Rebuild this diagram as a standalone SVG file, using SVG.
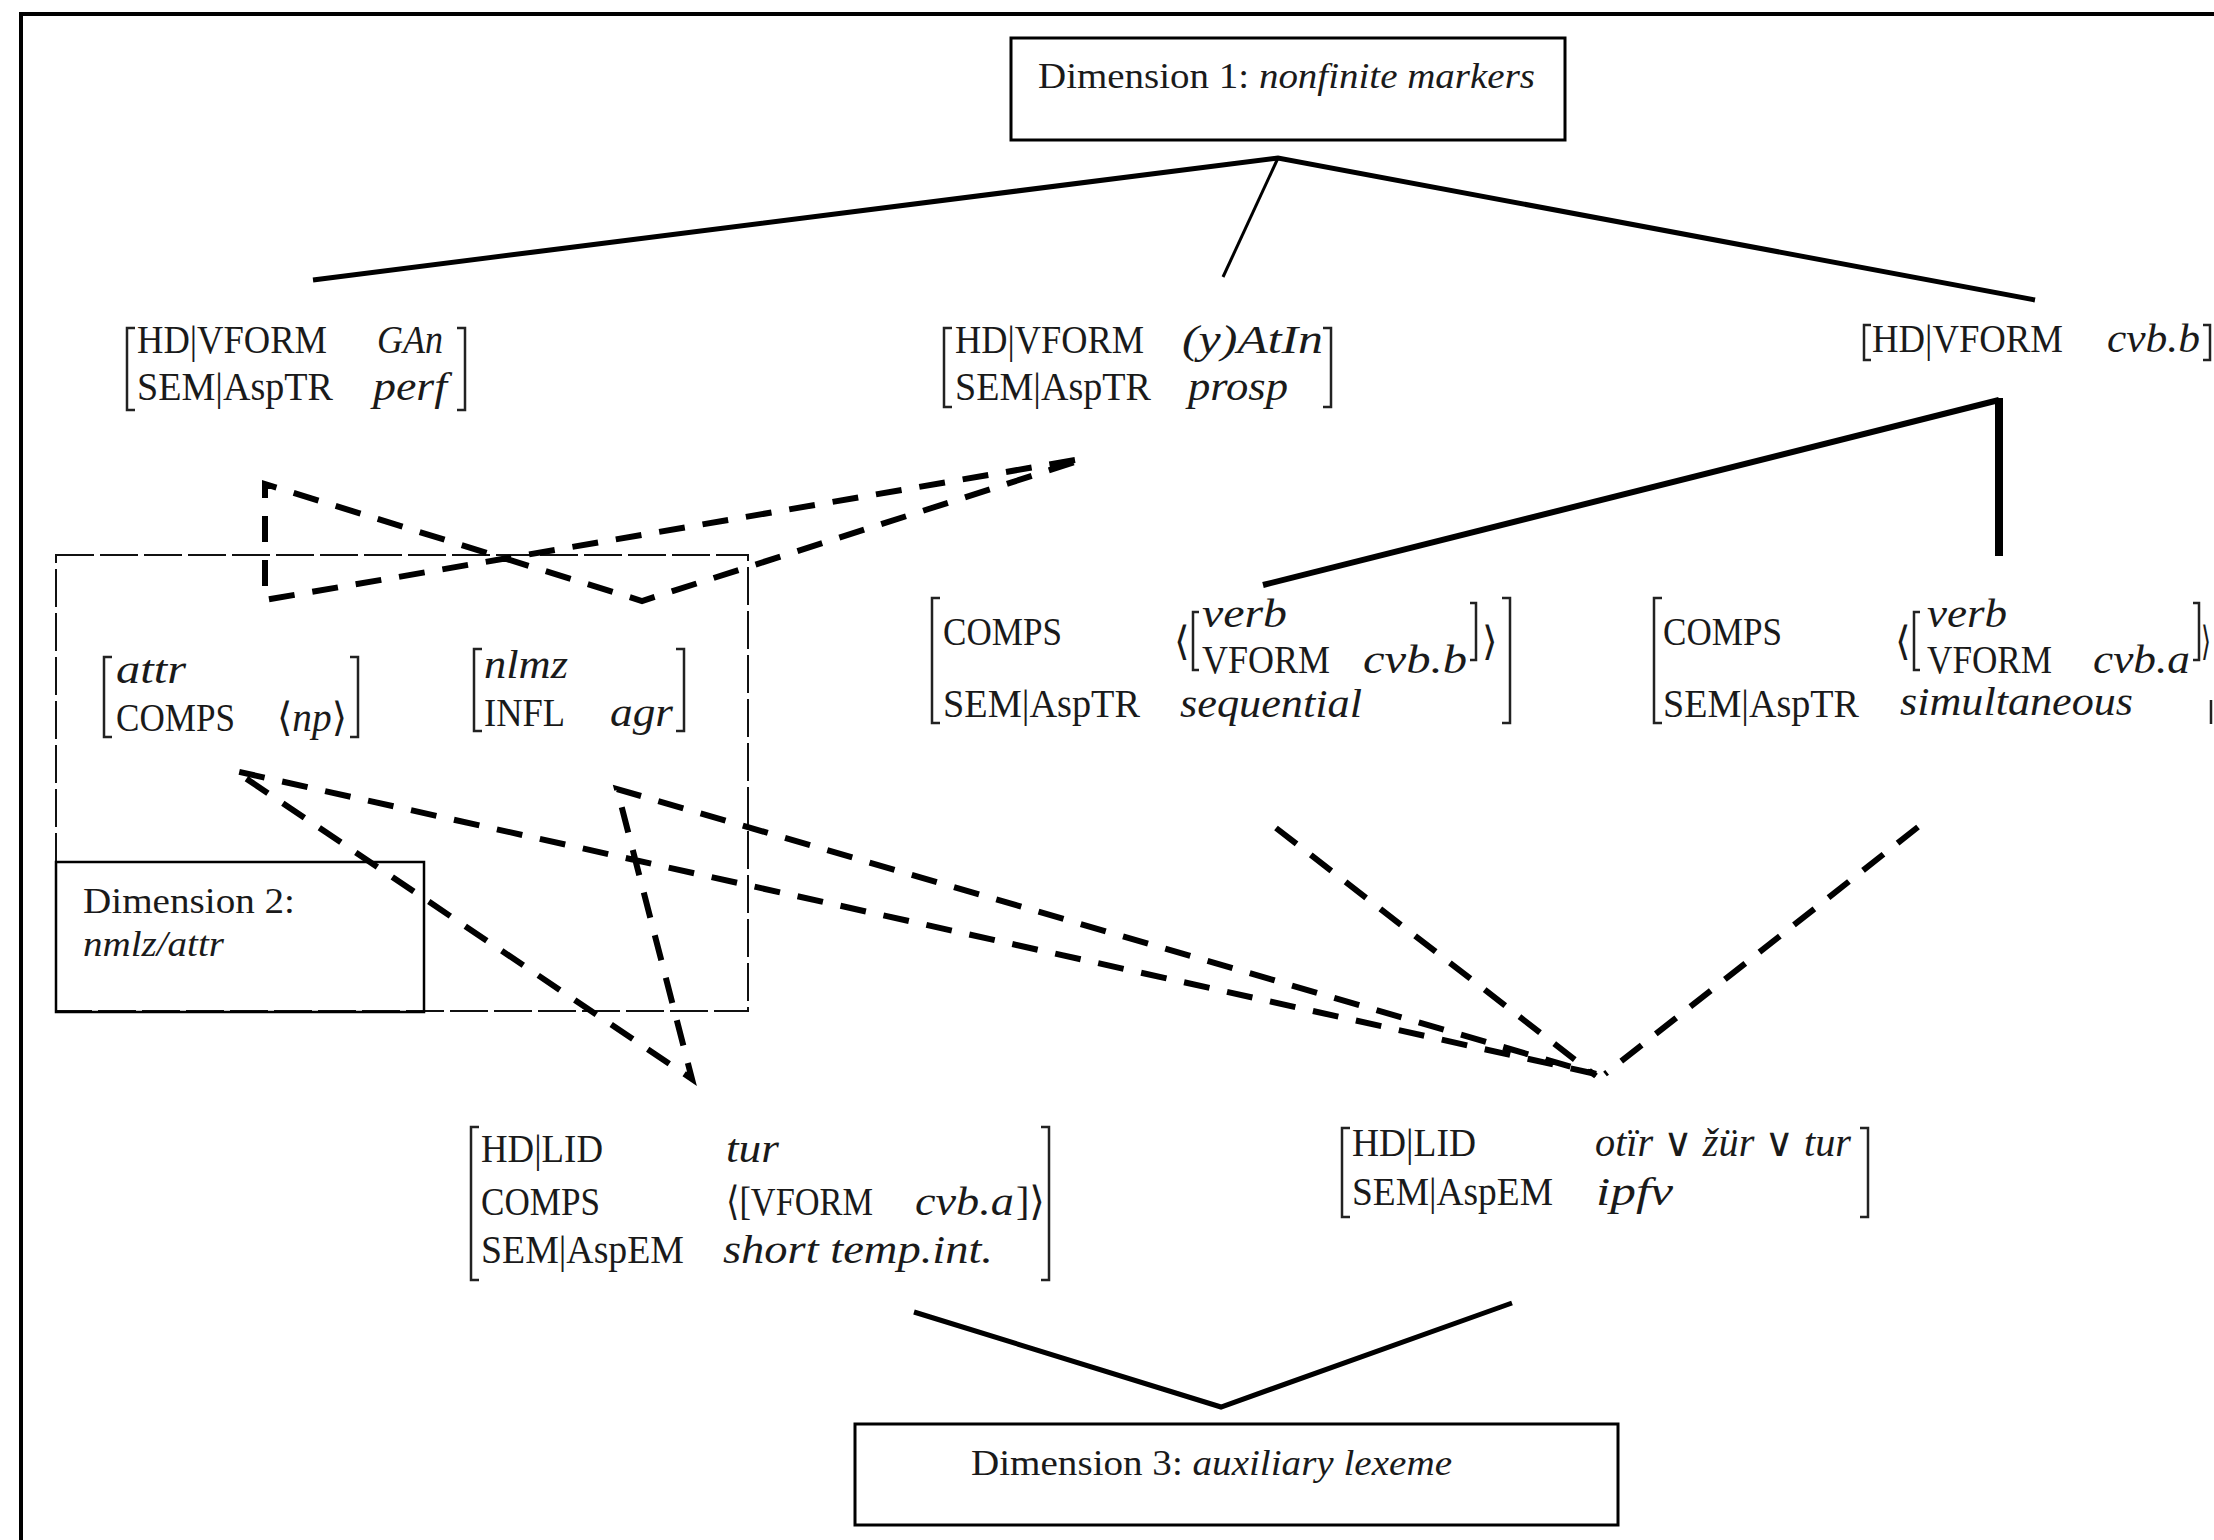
<svg xmlns="http://www.w3.org/2000/svg" width="2214" height="1540" viewBox="0 0 2214 1540">
<style>
text{font-family:"Liberation Serif","DejaVu Serif",serif;fill:#1a1a1a;font-size:40px}
.i{font-style:italic}
.d{font-size:36px}
.br{fill:none;stroke:#222;stroke-width:2.5}
.solid{fill:none;stroke:#000;stroke-width:5;stroke-linecap:butt;stroke-linejoin:miter}
.dash{fill:none;stroke:#000;stroke-width:6;stroke-dasharray:26 18}
.box{fill:#fff;stroke:#000;stroke-width:3}
</style>
<rect x="0" y="0" width="2214" height="1540" fill="#fff"/>
<path d="M21,1540 V14 H2214" fill="none" stroke="#000" stroke-width="4"/>

<g id="dim2-container">
<rect x="56" y="555" width="692" height="456" fill="none" stroke="#111" stroke-width="2" stroke-dasharray="38 6"/>
</g>

<g id="connectors">
<path class="solid" d="M313,280 L1278,158 L2035,300"/>
<path class="solid" style="stroke-width:3" d="M1278,158 L1223,277"/>
<path class="solid" style="stroke-width:6" d="M1263,585 L1999,400"/>
<path class="solid" style="stroke-width:8" d="M1999,398 L1999,556"/>
<path class="solid" d="M914,1312 L1221,1407 L1512,1303"/>
<path class="dash" d="M1075,460 L265,600 L265,484 L642,601 L1075,462"/>
<path class="dash" d="M1596,1074 L235,771 L692,1079 L617,789 L1596,1074"/>
<path class="dash" d="M1276,828 L1596,1076"/>
<path class="dash" d="M1918,827 L1605,1074"/>
</g>

<g id="dim1">
<rect class="box" x="1011" y="38" width="554" height="102"/>
<text class="d" x="1038" y="88" textLength="497" lengthAdjust="spacingAndGlyphs">Dimension 1: <tspan class="i">nonfinite markers</tspan></text>
</g>

<g id="node-gan">
<path class="br" d="M135,328 H127 V410 H135 M457,328 H465 V410 H457"/>
<text x="137" y="353" textLength="190" lengthAdjust="spacingAndGlyphs">HD|VFORM</text>
<text x="137" y="400" textLength="196" lengthAdjust="spacingAndGlyphs">SEM|AspTR</text>
<text class="i" x="377" y="353" textLength="66" lengthAdjust="spacingAndGlyphs">GAn</text>
<text class="i" x="373" y="400" textLength="74" lengthAdjust="spacingAndGlyphs">perf</text>
</g>

<g id="node-atin">
<path class="br" d="M952,328 H944 V407 H952 M1323,328 H1331 V407 H1323"/>
<text x="955" y="353" textLength="189" lengthAdjust="spacingAndGlyphs">HD|VFORM</text>
<text x="955" y="400" textLength="196" lengthAdjust="spacingAndGlyphs">SEM|AspTR</text>
<text class="i" x="1182" y="353" textLength="141" lengthAdjust="spacingAndGlyphs">(y)AtIn</text>
<text class="i" x="1188" y="400" textLength="100" lengthAdjust="spacingAndGlyphs">prosp</text>
</g>

<g id="node-cvbb">
<path class="br" d="M1871,325 H1864 V360 H1871 M2203,325 H2210 V360 H2203"/>
<text x="1872" y="352" textLength="191" lengthAdjust="spacingAndGlyphs">HD|VFORM</text>
<text class="i" x="2107" y="352" textLength="93" lengthAdjust="spacingAndGlyphs">cvb.b</text>
</g>

<g id="node-sequential">
<path class="br" d="M940,598 H932 V723 H940 M1502,598 H1510 V723 H1502"/>
<path class="br" d="M1199,612 H1193 V670 H1199 M1470,603 H1476 V660 H1470"/>
<text x="943" y="645" textLength="119" lengthAdjust="spacingAndGlyphs">COMPS</text>
<text x="943" y="717" textLength="197" lengthAdjust="spacingAndGlyphs">SEM|AspTR</text>
<text x="1174" y="655">⟨</text>
<text class="i" x="1202" y="627" textLength="85" lengthAdjust="spacingAndGlyphs">verb</text>
<text x="1202" y="673" textLength="128" lengthAdjust="spacingAndGlyphs">VFORM</text>
<text class="i" x="1363" y="673" textLength="104" lengthAdjust="spacingAndGlyphs">cvb.b</text>
<text x="1482" y="655">⟩</text>
<text class="i" x="1180" y="717" textLength="182" lengthAdjust="spacingAndGlyphs">sequential</text>
</g>

<g id="node-simultaneous">
<path class="br" d="M1662,598 H1654 V723 H1662 M2211,700 V724"/>
<path class="br" d="M1920,612 H1914 V670 H1920 M2193,603 H2199 V660 H2193"/>
<text x="1663" y="645" textLength="119" lengthAdjust="spacingAndGlyphs">COMPS</text>
<text x="1663" y="717" textLength="196" lengthAdjust="spacingAndGlyphs">SEM|AspTR</text>
<text x="1895" y="655">⟨</text>
<text class="i" x="1927" y="627" textLength="80" lengthAdjust="spacingAndGlyphs">verb</text>
<text x="1927" y="673" textLength="125" lengthAdjust="spacingAndGlyphs">VFORM</text>
<text class="i" x="2093" y="673" textLength="97" lengthAdjust="spacingAndGlyphs">cvb.a</text>
<text x="2201" y="655" textLength="10" lengthAdjust="spacingAndGlyphs">⟩</text>
<text class="i" x="1900" y="715" textLength="233" lengthAdjust="spacingAndGlyphs">simultaneous</text>
</g>

<g id="node-attr">
<path class="br" d="M112,657 H104 V737 H112 M350,657 H358 V737 H350"/>
<text class="i" x="116" y="683" textLength="70" lengthAdjust="spacingAndGlyphs">attr</text>
<text x="116" y="731" textLength="119" lengthAdjust="spacingAndGlyphs">COMPS</text>
<text x="277" y="731" textLength="70" lengthAdjust="spacingAndGlyphs">⟨<tspan class="i">np</tspan>⟩</text>
</g>

<g id="node-nlmz">
<path class="br" d="M482,649 H474 V731 H482 M676,649 H684 V731 H676"/>
<text class="i" x="484" y="678" textLength="84" lengthAdjust="spacingAndGlyphs">nlmz</text>
<text x="484" y="726" textLength="81" lengthAdjust="spacingAndGlyphs">INFL</text>
<text class="i" x="610" y="726" textLength="63" lengthAdjust="spacingAndGlyphs">agr</text>
</g>

<g id="dim2">
<rect x="56" y="862" width="368" height="150" fill="none" stroke="#000" stroke-width="2.5"/>
<text class="d" x="83" y="913" textLength="212" lengthAdjust="spacingAndGlyphs">Dimension 2:</text>
<text class="d i" x="83" y="956" textLength="141" lengthAdjust="spacingAndGlyphs">nmlz/attr</text>
</g>

<g id="node-tur">
<path class="br" d="M479,1127 H471 V1280 H479 M1041,1127 H1049 V1280 H1041"/>
<text x="481" y="1162" textLength="122" lengthAdjust="spacingAndGlyphs">HD|LID</text>
<text x="481" y="1215" textLength="119" lengthAdjust="spacingAndGlyphs">COMPS</text>
<text x="481" y="1263" textLength="203" lengthAdjust="spacingAndGlyphs">SEM|AspEM</text>
<text class="i" x="726" y="1162" textLength="53" lengthAdjust="spacingAndGlyphs">tur</text>
<text x="726" y="1215" textLength="147" lengthAdjust="spacingAndGlyphs">⟨[VFORM</text>
<text class="i" x="915" y="1215" textLength="99" lengthAdjust="spacingAndGlyphs">cvb.a</text>
<text x="1016" y="1215" textLength="29" lengthAdjust="spacingAndGlyphs">]⟩</text>
<text class="i" x="723" y="1263" textLength="270" lengthAdjust="spacingAndGlyphs">short temp.int.</text>
</g>

<g id="node-ipfv">
<path class="br" d="M1350,1128 H1342 V1217 H1350 M1860,1128 H1868 V1217 H1860"/>
<text x="1352" y="1156" textLength="124" lengthAdjust="spacingAndGlyphs">HD|LID</text>
<text x="1352" y="1205" textLength="201" lengthAdjust="spacingAndGlyphs">SEM|AspEM</text>
<text x="1595" y="1156" textLength="256" lengthAdjust="spacingAndGlyphs"><tspan class="i">otïr</tspan> ∨ <tspan class="i">žür</tspan> ∨ <tspan class="i">tur</tspan></text>
<text class="i" x="1596" y="1205" textLength="77" lengthAdjust="spacingAndGlyphs">ipfv</text>
</g>

<g id="dim3">
<rect class="box" x="855" y="1424" width="763" height="101"/>
<text class="d" x="971" y="1475" textLength="481" lengthAdjust="spacingAndGlyphs">Dimension 3: <tspan class="i">auxiliary lexeme</tspan></text>
</g>
</svg>
